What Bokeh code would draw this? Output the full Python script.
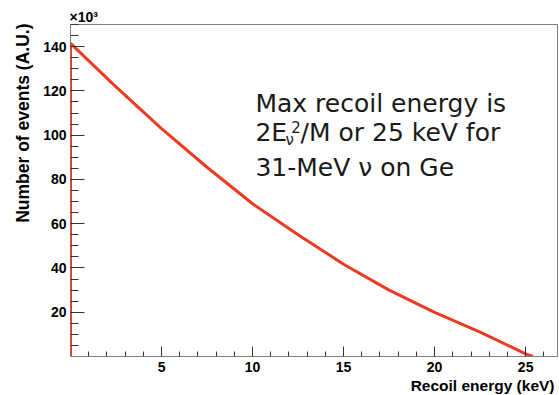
from bokeh.plotting import figure
from bokeh.models import FixedTicker, Label, Title
from bokeh.embed import file_html
from bokeh.resources import INLINE

# Data (events in units of 10^3)
recoil_kev = [0.0, 0.0, 2.5, 5.0, 7.5, 10.0, 12.5, 15.0, 17.5, 20.0, 22.5, 25.0, 25.4]
events_k = [0.0, 141.5, 121.8, 103.0, 85.5, 69.0, 55.0, 41.7, 30.0, 19.9, 11.0, 1.2, 0.0]

x_major = [5, 10, 15, 20, 25]
x_minor = list(range(1, 27))
y_major = [20, 40, 60, 80, 100, 120, 140]
y_minor = list(range(5, 151, 5))

X_MAX = 26.75
Y_MAX = 150

p = figure(width=559, height=395, x_range=(0, X_MAX), y_range=(0, Y_MAX),
           output_backend="svg", toolbar_location=None,
           min_border_left=70, min_border_right=2, min_border_top=24, min_border_bottom=39)
p.background_fill_color = "white"
p.border_fill_color = "white"
p.outline_line_color = "#808080"
p.outline_line_width = 1
p.xgrid.visible = False
p.ygrid.visible = False

p.line(recoil_kev, events_k, line_color="#ee3a22", line_width=3)

FONT = "Liberation Sans"
for ax in (p.xaxis[0], p.yaxis[0]):
    ax.axis_line_color = "#808080"
    ax.major_tick_line_color = "#333333"
    ax.minor_tick_line_color = "#333333"
    ax.major_tick_out = 0
    ax.minor_tick_out = 0
    ax.major_label_text_font = FONT
    ax.major_label_text_font_style = "bold"
    ax.major_label_text_font_size = "14px"
    ax.major_label_text_color = "black"

p.xaxis.ticker = FixedTicker(ticks=x_major, minor_ticks=x_minor)
p.xaxis.major_tick_in = 10
p.xaxis.minor_tick_in = 5
p.xaxis.major_label_standoff = 5

p.yaxis.ticker = FixedTicker(ticks=y_major, minor_ticks=y_minor)
p.yaxis.axis_line_color = None
p.yaxis.major_tick_in = 14
p.yaxis.minor_tick_in = 8
p.yaxis.major_label_standoff = 4

# Axis titles
p.add_layout(Title(text="Recoil energy (keV)", align="right", offset=3, standoff=0,
                   text_font=FONT, text_font_style="bold", text_font_size="15.5px",
                   text_color="black"), "below")
p.add_layout(Title(text="Number of events (A.U.)", align="right", offset=-1, standoff=16,
                   text_font=FONT, text_font_style="bold", text_font_size="17.5px",
                   text_color="black"), "left")
p.add_layout(Title(text="×10³", align="left", offset=-1, standoff=0,
                   text_font=FONT, text_font_style="bold", text_font_size="14px",
                   text_color="black"), "above")

# Annotation text
NOTE_FONT = "DejaVu Sans"
NOTE_SIZE = "25px"
NOTE_COLOR = "#1a1a1a"
note_x = 10.16
p.add_layout(Label(x=note_x, y=114.1, text="Max recoil energy is", text_font=NOTE_FONT,
                   text_font_size=NOTE_SIZE, text_color=NOTE_COLOR, text_baseline="alphabetic"))
p.add_layout(Label(x=note_x, y=101.1, text="2E", text_font=NOTE_FONT,
                   text_font_size=NOTE_SIZE, text_color=NOTE_COLOR, text_baseline="alphabetic"))
p.add_layout(Label(x=11.81, y=97.8, text="ν", text_font=NOTE_FONT,
                   text_font_size="15px", text_color=NOTE_COLOR, text_baseline="alphabetic"))
p.add_layout(Label(x=12.12, y=103.5, text="2", text_font=NOTE_FONT,
                   text_font_size="15px", text_color=NOTE_COLOR, text_baseline="alphabetic"))
p.add_layout(Label(x=12.64, y=101.1, text="/M or 25 keV for", text_font=NOTE_FONT,
                   text_font_size=NOTE_SIZE, text_color=NOTE_COLOR, text_baseline="alphabetic"))
p.add_layout(Label(x=note_x, y=85.3, text="31-MeV ν on Ge", text_font=NOTE_FONT,
                   text_font_size=NOTE_SIZE, text_color=NOTE_COLOR, text_baseline="alphabetic"))

open("out.html", "w").write(file_html(p, INLINE))
